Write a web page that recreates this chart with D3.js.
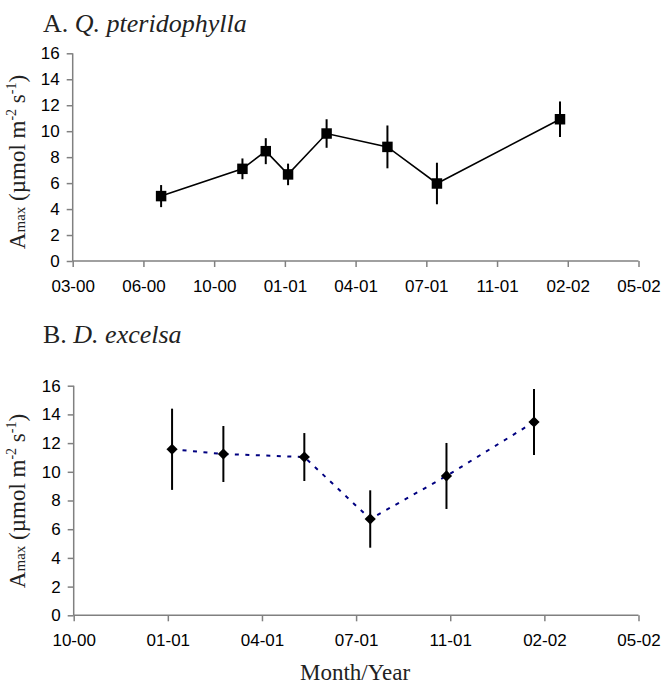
<!DOCTYPE html>
<html>
<head>
<meta charset="utf-8">
<script src="https://cdn.jsdelivr.net/npm/d3@7"></script>
<style>
  body { margin: 0; background: #fff; }
  .tick text { font-family: Arial, "Liberation Sans", sans-serif; font-size: 17px; fill: #000; }
  .serif { font-family: "Times New Roman", "Liberation Serif", serif; fill: #222; }
</style>
</head>
<body>
<div id="container"></div>
<script>
var w = 664
var h = 686

// sampling dates, in tick steps counted from the 03-00 tick
var ticksA = ["03-00", "06-00", "10-00", "01-01", "04-01", "07-01", "11-01", "02-02", "05-02"]
var ticksB = ["10-00", "01-01", "04-01", "07-01", "11-01", "02-02", "05-02"]
var offsetB = 2   // first tick of panel B is 10-00

// A. Q. pteridophylla
var dateA = [1.25, 2.40, 2.73, 3.045, 3.59, 4.45, 5.15, 6.89]
var amaxA = [5.0, 7.1, 8.46, 6.67, 9.82, 8.79, 5.97, 10.92]
var errA  = [0.85, 0.8, 1.0, 0.83, 1.1, 1.65, 1.6, 1.37]

// B. D. excelsa
var dateB = [3.045, 3.59, 4.45, 5.15, 5.96, 6.89]
var amaxB = [11.57, 11.24, 11.03, 6.71, 9.71, 13.47]
var errB  = [2.83, 1.95, 1.67, 2.0, 2.3, 2.3]

var yTicks = [0, 2, 4, 6, 8, 10, 12, 14, 16]

var svg = d3.select("#container").append("svg")
    .attr("width", w)
    .attr("height", h)

function panel(opt) {
    var x = d3.scaleLinear().domain([0, opt.ticks.length - 1]).range([opt.left, 638.5])
    var y = d3.scaleLinear().domain([0, 16]).range([opt.bottom, opt.top])
    var g = svg.append("g")

    var pts = opt.dates.map(function (d, i) {
        return { x: d - opt.offset, v: opt.vals[i], e: opt.errs[i] }
    })

    // axes
    var xAxis = g.append("g")
        .attr("transform", "translate(0," + opt.bottom + ")")
        .call(d3.axisBottom(x)
            .tickValues(d3.range(opt.ticks.length))
            .tickFormat(function (i) { return opt.ticks[i] })
            .tickSize(6).tickPadding(13))
    var yAxis = g.append("g")
        .attr("transform", "translate(" + opt.left + ",0)")
        .call(d3.axisLeft(y).tickValues(yTicks).tickSize(6).tickPadding(7))
    ;[xAxis, yAxis].forEach(function (a) {
        a.select(".domain").attr("stroke", "#808080").attr("stroke-width", 1.5)
        a.selectAll(".tick line").attr("stroke", "#808080").attr("stroke-width", 1.5)
    })
    xAxis.select(".domain").attr("d", "M" + opt.left + ",0H638.5")
    yAxis.select(".domain").attr("d", "M0," + opt.top + "V" + opt.bottom)

    // connecting line
    var line = d3.line().x(function (d) { return x(d.x) }).y(function (d) { return y(d.v) })
    g.append("path")
        .datum(pts)
        .attr("d", line)
        .attr("fill", "none")
        .attr("stroke", opt.lineColor)
        .attr("stroke-width", opt.dashed ? 2 : 1.6)
        .attr("stroke-dasharray", opt.dashed ? "4,6.5" : null)

    // error bars
    g.selectAll(".err")
        .data(pts)
        .enter()
        .append("line")
        .attr("class", "err")
        .attr("x1", function (d) { return x(d.x) })
        .attr("x2", function (d) { return x(d.x) })
        .attr("y1", function (d) { return y(d.v + d.e) })
        .attr("y2", function (d) { return y(d.v - d.e) })
        .attr("stroke", "#000")
        .attr("stroke-width", 2)

    // markers
    g.selectAll(".mark")
        .data(pts)
        .enter()
        .append("path")
        .attr("class", "mark")
        .attr("transform", function (d) { return "translate(" + x(d.x) + "," + y(d.v) + ")" })
        .attr("d", d3.symbol().type(opt.symbol).size(opt.symbolSize))
        .attr("fill", "#000")

    // panel title
    var t = svg.append("text").attr("class", "serif")
        .attr("x", 43).attr("y", opt.titleY)
        .style("font-size", "26px")
    t.append("tspan").text(opt.letter + " ")
    t.append("tspan").style("font-style", "italic").text(opt.species)

    // y label
    var yl = svg.append("text").attr("class", "serif")
        .attr("transform", "translate(25," + opt.labelY + ") rotate(-90)")
        .attr("text-anchor", "middle")
        .style("font-size", "23px")
    yl.append("tspan").text("A")
    yl.append("tspan").style("font-size", "15px").text("max")
    yl.append("tspan").text(" (µmol m")
    yl.append("tspan").style("font-size", "14px").attr("dy", -9).text("-2")
    yl.append("tspan").attr("dy", 9).text(" s")
    yl.append("tspan").style("font-size", "14px").attr("dy", -9).text("-1")
    yl.append("tspan").attr("dy", 9).text(")")
}

panel({
    ticks: ticksA, offset: 0, dates: dateA, vals: amaxA, errs: errA,
    left: 72.7, top: 53.3, bottom: 261,
    lineColor: "#000", dashed: false,
    symbol: d3.symbolSquare, symbolSize: 110,
    letter: "A.", species: "Q. pteridophylla", titleY: 32, labelY: 162
})

panel({
    ticks: ticksB, offset: offsetB, dates: dateB, vals: amaxB, errs: errB,
    left: 73.7, top: 385.7, bottom: 615.3,
    lineColor: "#000080", dashed: true,
    symbol: d3.symbolDiamond2, symbolSize: 80,
    letter: "B.", species: "D. excelsa", titleY: 343, labelY: 501
})

svg.append("text").attr("class", "serif")
    .attr("x", 355).attr("y", 680)
    .attr("text-anchor", "middle")
    .style("font-size", "23px")
    .text("Month/Year")
</script>
</body>
</html>
